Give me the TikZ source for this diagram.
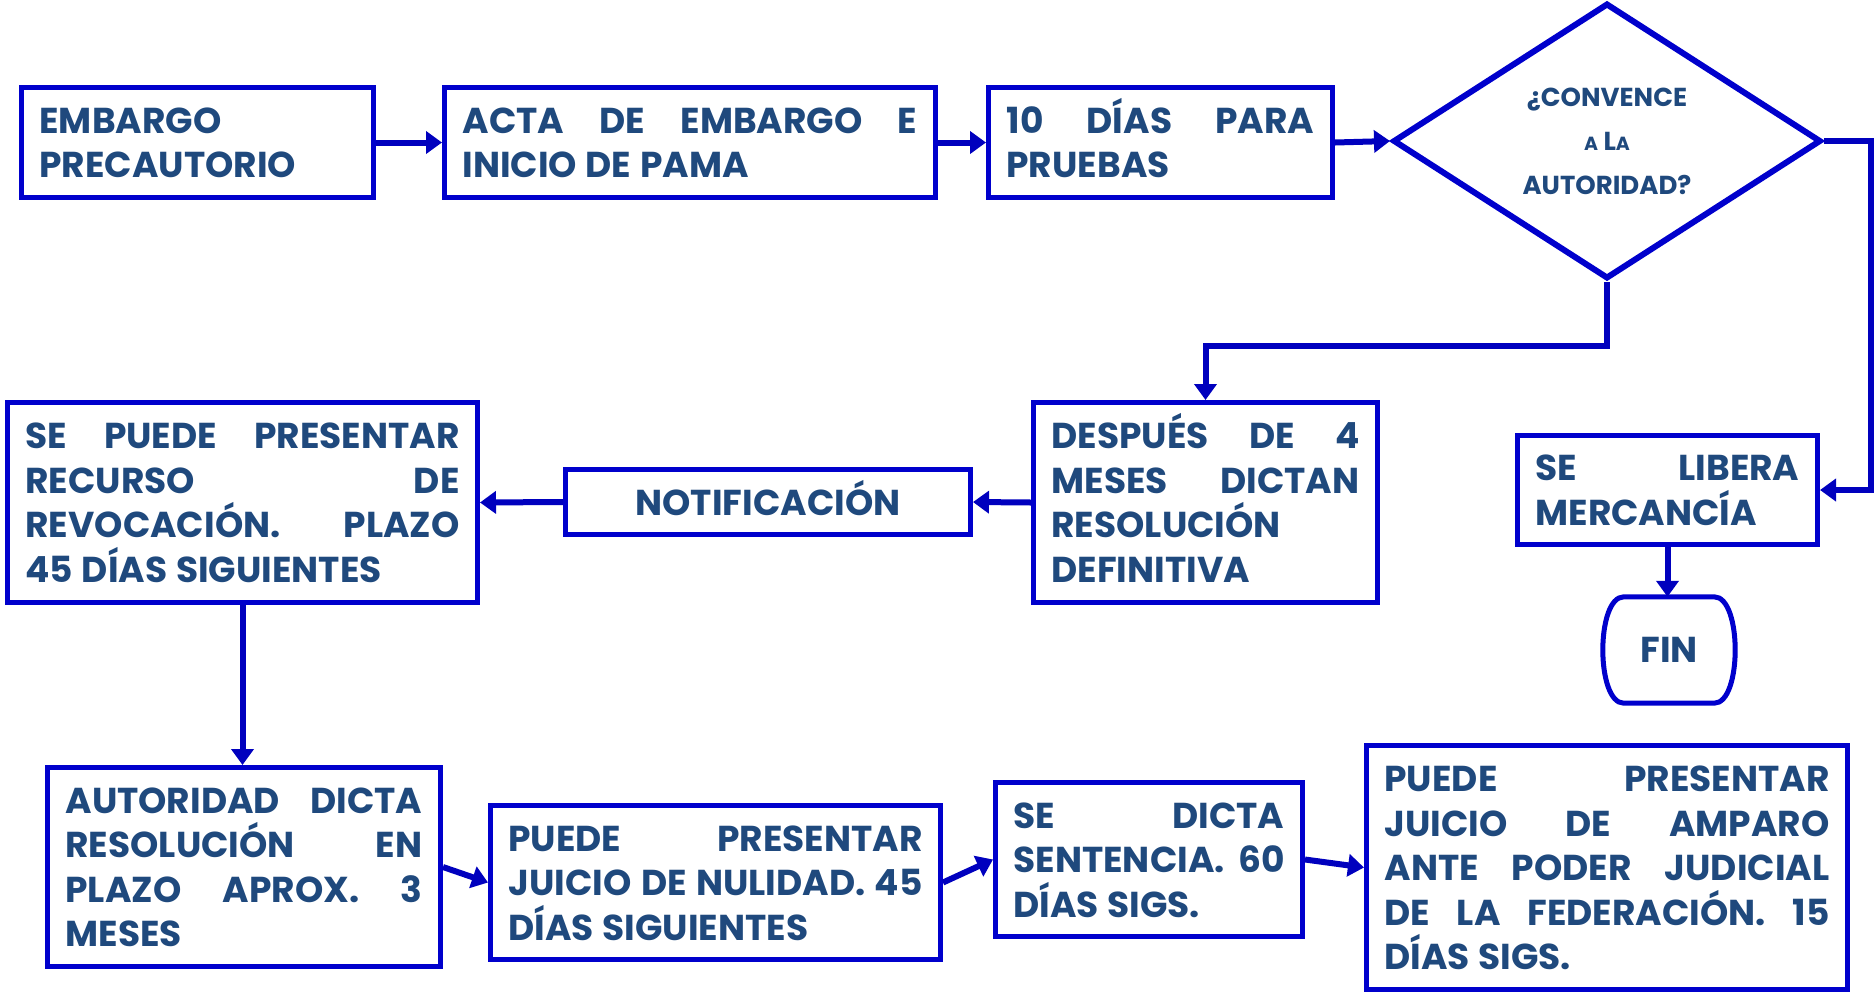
\documentclass[tikz,border=0pt]{standalone}
\usepackage{fontspec}
\setmainfont{Poppins}
\usepackage{xcolor}
\usetikzlibrary{arrows.meta,shapes.geometric}
\definecolor{boxblue}{RGB}{0,0,204}
\definecolor{textblue}{RGB}{31,73,125}
\definecolor{arrowblue}{RGB}{0,0,190}
\hyphenpenalty=10000
\exhyphenpenalty=10000

\begin{document}
\begin{tikzpicture}[x=1pt,y=-1pt,
    caja/.style={draw=boxblue, line width=5pt, inner xsep=18pt, inner ysep=0pt, align=justify,
        text=textblue, font={\fontsize{36}{44.5}\selectfont\bfseries\spaceskip=.24em plus 1em minus .04em\relax},
        execute at begin node=\vphantom{Í}, execute at end node={\rule[-9pt]{0pt}{9pt}}},
    flecha/.style={draw=arrowblue, line width=6pt, -{Triangle[length=16pt,width=22pt]}}]
    \useasboundingbox (0,0) rectangle (1874,994);
    % fila de arriba
    \node[caja, minimum width=352pt, minimum height=110pt, text width=316pt] (embargo) at (197.5,142.5) {EMBARGO\linebreak PRECAUTORIO};
    \node[caja, minimum width=491pt, minimum height=110pt, text width=455pt] (acta) at (690,142.5) {ACTA DE EMBARGO E\linebreak INICIO DE PAMA};
    \node[caja, minimum width=344pt, minimum height=110pt, text width=308pt] (pruebas) at (1160.5,142.5) {10 DÍAS PARA\linebreak PRUEBAS};
    \node[diamond, draw=boxblue, line width=6pt, minimum width=428pt, minimum height=266pt, inner sep=0pt, align=center,
        text=textblue, font=\fontsize{26}{44}\selectfont\bfseries] (convence) at (1607,141)
        {¿CONVENCE\\{\fontsize{19}{19}\selectfont A} L{\fontsize{19}{19}\selectfont A}\\AUTORIDAD?};
    % fila del medio
    \node[caja, minimum width=344pt, minimum height=200pt, text width=308pt] (despues) at (1205.5,502.5) {DESPUÉS DE 4\linebreak MESES DICTAN\linebreak RESOLUCIÓN\linebreak DEFINITIVA};
    \node[caja, align=center, minimum width=405pt, minimum height=65pt, text width=369pt] (notif) at (768,502) {NOTIFICACIÓN};
    \node[caja, minimum width=470pt, minimum height=200pt, text width=434pt] (recurso) at (242.5,502.5) {SE PUEDE PRESENTAR\linebreak RECURSO DE\linebreak REVOCACIÓN. PLAZO\linebreak 45 DÍAS SIGUIENTES};
    \node[caja, minimum width=300pt, minimum height=109pt, text width=264pt] (libera) at (1667.5,490) {SE LIBERA\linebreak MERCANCÍA};
    \node[text=textblue, font=\fontsize{36}{44.5}\selectfont\bfseries, minimum width=90pt, minimum height=106pt, inner sep=0pt] (fin) at (1669,650) {FIN};
    \draw[draw=boxblue, line width=5pt] (fin.north west) -- (fin.north east) .. controls +(28,0) and +(28,0) .. (fin.south east)
        -- (fin.south west) .. controls +(-28,0) and +(-28,0) .. (fin.north west) -- cycle;
    % fila de abajo
    \node[caja, minimum width=393pt, minimum height=199pt, text width=357pt] (autoridad) at (244,867) {AUTORIDAD DICTA\linebreak RESOLUCIÓN EN\linebreak PLAZO APROX. 3\linebreak MESES};
    \node[caja, minimum width=450pt, minimum height=154pt, text width=414pt] (nulidad) at (715.5,882.5) {PUEDE PRESENTAR\linebreak JUICIO DE NULIDAD. 45\linebreak DÍAS SIGUIENTES};
    \node[caja, minimum width=307pt, minimum height=154pt, text width=271pt] (dicta) at (1149,859.5) {SE DICTA\linebreak SENTENCIA. 60\linebreak DÍAS SIGS.};
    \node[caja, minimum width=481pt, minimum height=244pt, text width=445pt] (amparo) at (1607,867.5) {PUEDE PRESENTAR\linebreak JUICIO DE AMPARO\linebreak ANTE PODER JUDICIAL\linebreak DE LA FEDERACIÓN. 15\linebreak DÍAS SIGS.};
    % flechas
    \draw[flecha] (embargo.east) -- (acta.west);
    \draw[flecha] (acta.east) -- (pruebas.west);
    \draw[flecha] (pruebas.east) -- (convence.west);
    \draw[flecha] (convence.east) -- ++(47,0) |- (libera.east);
    \draw[flecha] (convence.south) -- ++(0,64) -| (despues.north);
    \draw[flecha] (despues.west) -- (notif.east);
    \draw[flecha] (notif.west) -- (recurso.east);
    \draw[flecha] (recurso.south) -- (recurso.south |- autoridad.north);
    \draw[flecha] (autoridad.east) -- (nulidad.west);
    \draw[flecha] (nulidad.east) -- (dicta.west);
    \draw[flecha] (dicta.east) -- (amparo.west);
    \draw[flecha] (libera.south) -- (libera.south |- fin.north);
\end{tikzpicture}
\end{document}
